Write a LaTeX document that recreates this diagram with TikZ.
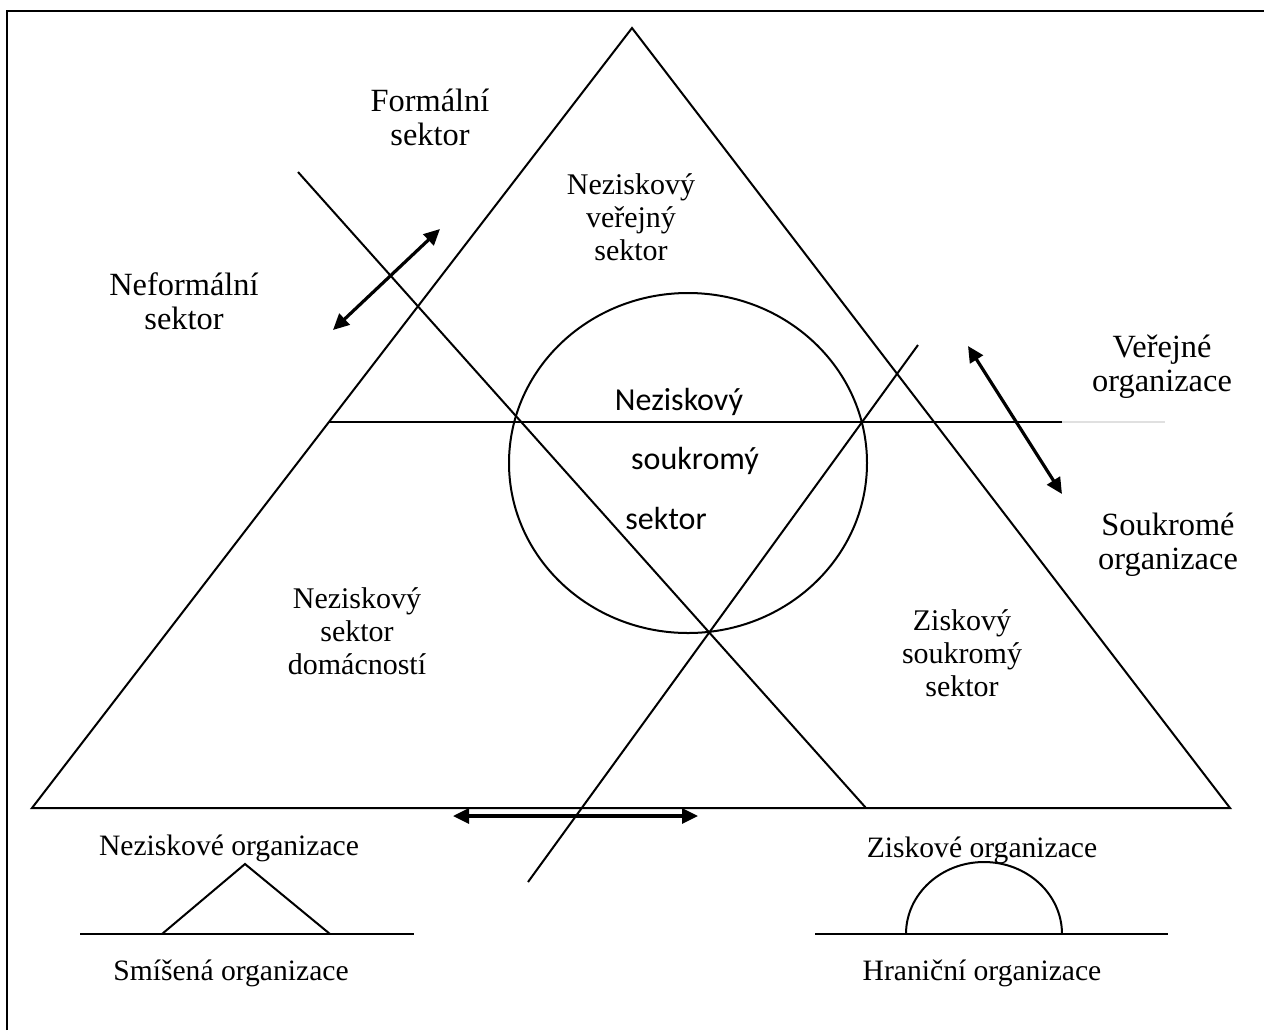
\documentclass[tikz,border=0pt]{standalone}
\usepackage{fontspec}
\setmainfont{Liberation Serif}
\newfontfamily\calib{Carlito}
\usetikzlibrary{arrows.meta}
\tikzset{
  thin line/.style={line width=1pt, black},
  thick line/.style={line width=1.4pt, black},
  dblarrow/.style={line width=1.6pt, black, {Triangle[length=8pt,width=7.5pt]}-{Triangle[length=8pt,width=7.5pt]}},
  lbl/.style={align=center, inner sep=0pt, font=\fontsize{15}{16.5}\selectfont},
  biglbl/.style={align=center, inner sep=0pt, font=\fontsize{16.2}{17}\selectfont},
  botlbl/.style={align=center, inner sep=0pt, font=\fontsize{14.8}{16}\selectfont},
  slbl/.style={inner sep=0pt, font=\calib\fontsize{16}{18}\selectfont}
}
\begin{document}
\begin{tikzpicture}[x=0.5pt,y=-0.5pt]
\useasboundingbox (0,0) rectangle (1264,1030);
% frame (top and left edges visible)
\coordinate (f1) at (7,1030);
\coordinate (f2) at (7,11);
\coordinate (f3) at (1264,11);
\draw[line width=1.3pt] (f1) -- (f2) -- (f3);
% big triangle
\coordinate (A) at (632,28);
\coordinate (BL) at (32,808);
\coordinate (BR) at (1230,808);
\draw[thin line, line join=miter] (A) -- (BL) -- (BR) -- cycle;
% horizontal line
\coordinate (H1) at (329,422);
\coordinate (H2) at (1062,422);
\coordinate (H3) at (1165,422);
\draw[thick line] (H1) -- (H2);
\draw[line width=0.6pt, black!12] (H2) -- (H3);
% diagonals
\coordinate (D1a) at (298,172);
\coordinate (D1b) at (866,808);
\coordinate (D2a) at (528,882);
\coordinate (D2b) at (918,345);
\draw[thin line] (D1a) -- (D1b);
\draw[thin line] (D2a) -- (D2b);
% circle
\coordinate (C) at (688,463);
\draw[thin line] (C) ellipse [x radius=89.5pt, y radius=85pt];
% arrows
\coordinate (a1) at (333,330);
\coordinate (a2) at (440,229);
\coordinate (b1) at (968,346);
\coordinate (b2) at (1062,494);
\coordinate (c1) at (453,816);
\coordinate (c2) at (698,816);
\draw[dblarrow] (a1) -- (a2);
\draw[dblarrow] (b1) -- (b2);
\draw[dblarrow] (c1) -- (c2);
% bottom left symbol
\coordinate (L1) at (80,934);
\coordinate (L2) at (414,934);
\coordinate (T1) at (162,934);
\coordinate (T2) at (245,864);
\coordinate (T3) at (330,934);
\draw[thin line] (L1) -- (L2);
\draw[thin line] (T1) -- (T2) -- (T3);
% bottom right symbol
\coordinate (R1) at (815,934);
\coordinate (R2) at (1168,934);
\coordinate (S1) at (906,934);
\draw[thin line] (R1) -- (R2);
\draw[thin line] (S1) arc[start angle=180, end angle=0, x radius=39pt, y radius=36pt];
% labels
\node[biglbl] (formal) at (430,117) {Formální\\sektor};
\node[lbl] (nvs) at (631,217) {Neziskový\\veřejný\\sektor};
\node[biglbl] (neformal) at (184,301) {Neformální\\sektor};
\node[biglbl] (verej) at (1162,367) {Veřejné\\organizace};
\node[biglbl] (soukr) at (1168,545) {Soukromé\\organizace};
\node[lbl] (nsd) at (357,631) {Neziskový\\sektor\\domácností};
\node[lbl] (zss) at (962,653) {Ziskový\\soukromý\\sektor};
\node[slbl] (n1) at (679,402) {Neziskový};
\node[slbl] (n2) at (695,461) {soukromý};
\node[slbl] (n3) at (666,518) {sektor};
\node[botlbl] (neo) at (229,848) {Neziskové organizace};
\node[botlbl] (smo) at (231,973) {Smíšená organizace};
\node[botlbl] (zio) at (982,850) {Ziskové organizace};
\node[botlbl] (hro) at (982,973) {Hraniční organizace};
\end{tikzpicture}
\end{document}
